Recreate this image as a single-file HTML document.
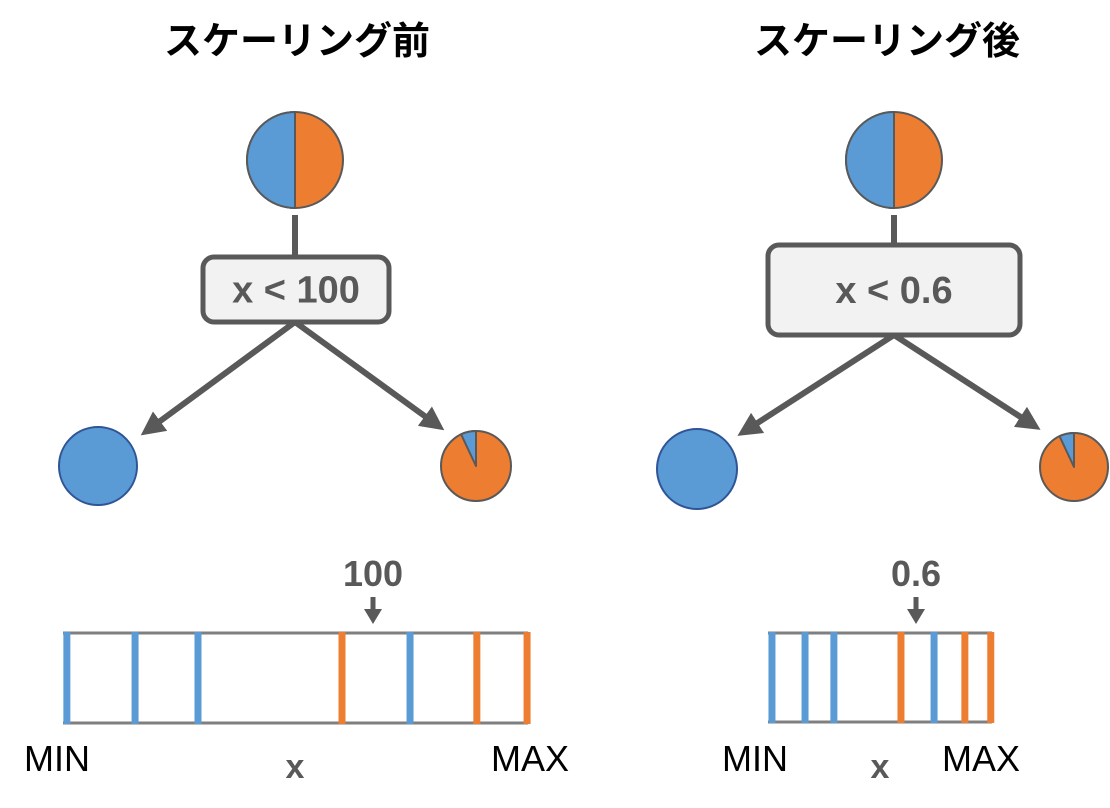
<!DOCTYPE html>
<html><head><meta charset="utf-8"><style>
body{margin:0;background:#fff;width:1110px;height:808px;overflow:hidden}
svg{display:block}
</style></head><body>
<svg id="s" width="1110" height="808" xmlns="http://www.w3.org/2000/svg">
<defs><marker id="ah" markerWidth="4" markerHeight="4" refX="2.5" refY="2" orient="auto" markerUnits="strokeWidth"><path d="M0,0 L4,2 L0,4 z" fill="#595959"/></marker></defs>
</svg>
<script>
// data
const panels = ["スケーリング前","スケーリング後"];
const thresholds = [100, 0.6];
const thresholdLabels = ["100","0.6"];
const domains = [[0,150],[0,0.908]];
const blueValsL = [0.6, 22.6, 42.9, 111.3];
const orangeValsL = [90, 133.5, 149.7];
const blueValsR = [0.008, 0.142, 0.259, 0.665];
const orangeValsR = [0.539, 0.798, 0.903];
const rightLeafBlueFrac = [0.07, 0.07];

const NS="http://www.w3.org/2000/svg", S=document.getElementById('s');
function mk(tag,attrs,parent,text){const e=document.createElementNS(NS,tag);for(const k in attrs)e.setAttribute(k,attrs[k]);if(text!==undefined)e.textContent=text;(parent||S).appendChild(e);return e;}
const BLUE="#5b9bd5",ORANGE="#ed7d31",GR="#595959";
const layout=[
 {cx:295,title:297,top:[295,160,48],stem:[215,257],box:[203,257,186,65],tx:296,ax:[[148,430],[437,425]],leafL:[98,466,39],leafR:[476,466,35],bar:[63,528,633,723],min:24,xl:295,max:491},
 {cx:894,title:887,top:[894,160,48],stem:[215,245],box:[768,245,252,90],tx:894,ax:[[745,431],[1033,425]],leafL:[697,469,40],leafR:[1074,467,34],bar:[768,992,633,722],min:722,xl:880,max:942}
];
const blues=[blueValsL,blueValsR],oranges=[orangeValsL,orangeValsR];
function pie(cx,cy,r,frac,name){
 const g=mk('g',{});
 
 
 mk('circle',{cx,cy,r,fill:ORANGE,stroke:GR,'stroke-width':2},g);
 const a=-Math.PI/2, b=a-frac*2*Math.PI, large=frac>0.5?1:0;
 const x1=cx+r*Math.cos(a),y1=cy+r*Math.sin(a),x2=cx+r*Math.cos(b),y2=cy+r*Math.sin(b);
 mk('path',{d:`M${cx},${cy} L${x1},${y1} A${r},${r} 0 ${large} 0 ${x2},${y2} Z`,fill:BLUE,stroke:GR,'stroke-width':2,'stroke-linejoin':'round'},g);
}
layout.forEach((L,i)=>{
 const p=i?'right':'left';
 let t=mk('text',{x:L.title,y:54,'text-anchor':'middle','font-size':38,'font-weight':'bold','font-family':'"Liberation Sans","Noto Sans CJK JP",sans-serif',fill:'#000'},S,panels[i]);
 
 pie(L.top[0],L.top[1],L.top[2],0.5,p+'-root-pie');
 let e=mk('line',{x1:L.cx,y1:L.stem[0],x2:L.cx,y2:L.stem[1],stroke:GR,'stroke-width':6});
 
 const [bx,by,bw,bh]=L.box;
 e=mk('rect',{x:bx,y:by,width:bw,height:bh,rx:11,fill:'#f2f2f2',stroke:GR,'stroke-width':5});
 
 e=mk('text',{x:L.tx,y:by+bh/2+13,'text-anchor':'middle','font-size':38,'font-weight':'bold','font-family':'"Liberation Sans",sans-serif',fill:GR},S,'x < '+thresholdLabels[i]);
 
 L.ax.forEach((a,j)=>{
  e=mk('line',{x1:L.cx,y1:by+bh,x2:a[0],y2:a[1],stroke:GR,'stroke-width':6,'marker-end':'url(#ah)'});
  
 });
 e=mk('circle',{cx:L.leafL[0],cy:L.leafL[1],r:L.leafL[2],fill:BLUE,stroke:'#2f5597','stroke-width':2});
 
 pie(L.leafR[0],L.leafR[1],L.leafR[2],rightLeafBlueFrac[i],p+'-right-leaf');
 const [x0,x1,y0,y1]=L.bar,[d0,d1]=domains[i];
 const sx=v=>x0+(v-d0)/(d1-d0)*(x1-x0);
 e=mk('line',{x1:x0,y1:y0,x2:x1,y2:y0,stroke:'#7f7f7f','stroke-width':3});
 
 e=mk('line',{x1:x0,y1:y1,x2:x1,y2:y1,stroke:'#7f7f7f','stroke-width':3});
 
 blues[i].forEach(v=>{e=mk('line',{x1:sx(v)+2,y1:y0-1,x2:sx(v)+2,y2:y1+1,stroke:BLUE,'stroke-width':7});
  });
 oranges[i].forEach(v=>{e=mk('line',{x1:sx(v),y1:y0-1,x2:sx(v),y2:y1+1,stroke:ORANGE,'stroke-width':7});
  });
 const tx=sx(thresholds[i]);
 e=mk('text',{x:tx,y:586,'text-anchor':'middle','font-size':36,'font-weight':'bold','font-family':'"Liberation Sans",sans-serif',fill:GR},S,thresholdLabels[i]);
 
 e=mk('line',{x1:tx,y1:597,x2:tx,y2:611,stroke:GR,'stroke-width':5});
 
 mk('path',{d:`M${tx-9},609 L${tx+9},609 L${tx},624 Z`,fill:GR});
 e=mk('text',{x:L.min,y:771,'font-size':36,'font-family':'"Liberation Sans",sans-serif',fill:'#000'},S,'MIN');
 
 e=mk('text',{x:L.max,y:771,'font-size':36,'font-family':'"Liberation Sans",sans-serif',fill:'#000'},S,'MAX');
 
 e=mk('text',{x:L.xl,y:778,'text-anchor':'middle','font-size':34,'font-weight':'bold','font-family':'"Liberation Sans",sans-serif',fill:GR},S,'x');
 
});
</script>
</body></html>
